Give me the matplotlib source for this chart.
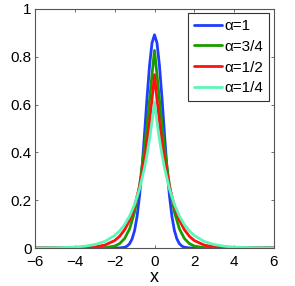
import matplotlib
matplotlib.use("Agg")
import matplotlib.pyplot as plt

plt.rcParams['font.family'] = ['Liberation Sans', 'DejaVu Sans']

# alpha = 1
x_a1 = [-6, -2, -1.75, -1.5, -1.375, -1.25, -1.125, -1.0, -0.875, -0.75, -0.625, -0.5, -0.375, -0.25, -0.125,
        0, 0.125, 0.25, 0.375, 0.5, 0.625, 0.75, 0.875, 1.0, 1.125, 1.25, 1.375, 1.5, 1.75, 2, 6]
y_a1 = [0, 0, 0.0004, 0.003, 0.008, 0.018, 0.038, 0.073, 0.132, 0.219, 0.336, 0.478, 0.628, 0.763, 0.858,
        0.892, 0.858, 0.763, 0.628, 0.478, 0.336, 0.219, 0.132, 0.073, 0.038, 0.018, 0.008, 0.003, 0.0004, 0, 0]

# common grid for the other three curves
x_grid = [-6, -5, -4, -3.5, -3, -2.5, -2, -1.75, -1.5, -1.25, -1, -0.75, -0.5, -0.375, -0.25, -0.125,
          0, 0.125, 0.25, 0.375, 0.5, 0.75, 1, 1.25, 1.5, 1.75, 2, 2.5, 3, 3.5, 4, 5, 6]
# alpha = 3/4
y_a34 = [0, 0, 0, 0, 0.0002, 0.0013, 0.0080, 0.0184, 0.0397, 0.0800, 0.1500, 0.2616, 0.4207, 0.5165, 0.6195, 0.7250,
         0.8265, 0.7250, 0.6195, 0.5165, 0.4207, 0.2616, 0.1500, 0.0800, 0.0397, 0.0184, 0.0080, 0.0013, 0.0002, 0, 0, 0, 0]
# alpha = 1/2
y_a12 = [0, 0.00005, 0.0005, 0.0015, 0.0044, 0.0120, 0.0311, 0.0492, 0.0764, 0.1167, 0.1752, 0.2582, 0.3728, 0.4443, 0.5265, 0.6201,
         0.7256, 0.6201, 0.5265, 0.4443, 0.3728, 0.2582, 0.1752, 0.1167, 0.0764, 0.0492, 0.0311, 0.0120, 0.0044, 0.0015, 0.0005, 0.00005, 0]
# alpha = 1/4
y_a14 = [0.0002, 0.0010, 0.0038, 0.0074, 0.0143, 0.0273, 0.0519, 0.0713, 0.0977, 0.1336, 0.1822, 0.2478, 0.3360, 0.3908, 0.4542, 0.5274,
         0.6119, 0.5274, 0.4542, 0.3908, 0.3360, 0.2478, 0.1822, 0.1336, 0.0977, 0.0713, 0.0519, 0.0273, 0.0143, 0.0074, 0.0038, 0.0010, 0.0002]

labels = ['α=1', 'α=3/4', 'α=1/2', 'α=1/4']
colors = ['#1f3cff', '#1a9c00', '#ff1010', '#5ef5b8']

x_ticks = [-6, -4, -2, 0, 2, 4, 6]
y_ticks = [0, 0.2, 0.4, 0.6, 0.8, 1]
y_ticklabels = ['0', '0.2', '0.4', '0.6', '0.8', '1']

W, H = 295, 286
fig = plt.figure(figsize=(W / 100, H / 100), dpi=100)
ax = fig.add_axes([35 / W, (H - 248) / H, 239 / W, 239 / H])

series = [(x_a1, y_a1), (x_grid, y_a34), (x_grid, y_a12), (x_grid, y_a14)]
for (xs, ys), c, lab in zip(series, colors, labels):
    ax.plot(xs, ys, color=c, lw=2.0, label=lab, solid_capstyle='round')

ax.set_xlim(-6, 6)
ax.set_ylim(0, 1)
ax.set_xticks(x_ticks)
ax.set_yticks(y_ticks)
ax.set_yticklabels(y_ticklabels)
ax.tick_params(direction='in', length=2.5, width=0.6, colors='#555555', labelcolor='black',
               labelsize=11, top=True, right=True)
ax.tick_params(axis='x', pad=5)
ax.tick_params(axis='y', pad=2.5)
for s in ax.spines.values():
    s.set_color('#555555')
    s.set_linewidth(0.8)
ax.set_xlabel('x', fontsize=13, labelpad=0)

leg = ax.legend(loc='upper right', bbox_to_anchor=(0.979, 0.983), borderaxespad=0,
                fontsize=11, handlelength=1.85, handletextpad=0.15, labelspacing=0.45,
                borderpad=0.38, fancybox=False, framealpha=1, edgecolor='#333333')
leg.get_frame().set_linewidth(0.8)

fig.savefig('out.png', dpi=100)
